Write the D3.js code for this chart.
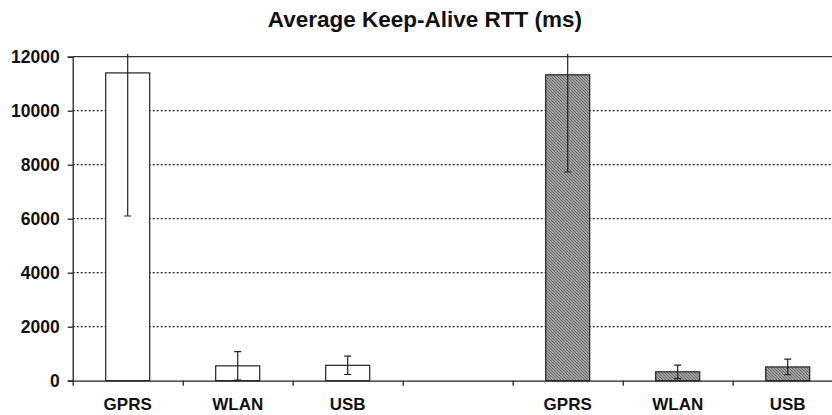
<!DOCTYPE html>
<html lang="en">
<head>
    <meta charset="UTF-8">
    <title>Average Keep-Alive RTT (ms)</title>
    <script src="https://d3js.org/d3.v7.min.js"></script>
    <style>
        body { margin: 0; background: #fff; }
        svg { display: block; overflow: hidden; }
        text { font-family: "Liberation Sans", Arial, sans-serif; font-weight: bold; fill: #111; }
    </style>
</head>
<body>
    <div id="chart"></div>
    <script>
        // chart data
        const techs = ["GPRS", "WLAN", "USB"];
        const plainMean = [11400, 550, 570];
        const plainErr = [5300, 530, 340];
        const hatchMean = [11330, 330, 510];
        const hatchErr = [3600, 250, 290];
        const yTicks = [0, 2000, 4000, 6000, 8000, 10000, 12000];

        // slots along the x axis: plain group, an empty slot, hatched group
        const slots = techs.map(t => "a-" + t).concat(["gap"], techs.map(t => "b-" + t));
        const bars = techs.map((t, i) => ({ slot: "a-" + t, label: t, mean: plainMean[i], err: plainErr[i], hatch: false }))
            .concat(techs.map((t, i) => ({ slot: "b-" + t, label: t, mean: hatchMean[i], err: hatchErr[i], hatch: true })));

        const W = 832, H = 415;
        const margin = { top: 56.7, left: 72.7 };
        const plotW = 770, plotH = 324;

        const svg = d3.select("#chart").append("svg")
            .attr("width", W).attr("height", H);

        const defs = svg.append("defs");
        const pat = defs.append("pattern")
            .attr("id", "hatch")
            .attr("patternUnits", "userSpaceOnUse")
            .attr("width", 3).attr("height", 3);
        pat.append("rect").attr("width", 3).attr("height", 3).attr("fill", "#fff");
        pat.append("path")
            .attr("d", "M-1,-1 L4,4 M-1,2 L1,4 M2,-1 L4,1")
            .attr("stroke", "#222").attr("stroke-width", 1.1);

        defs.append("clipPath").attr("id", "clip")
            .append("rect")
            .attr("x", -5).attr("y", -3)
            .attr("width", plotW + 10).attr("height", plotH + 3);

        svg.append("text")
            .attr("x", 425).attr("y", 27)
            .attr("text-anchor", "middle")
            .style("font-size", "22.5px")
            .text("Average Keep-Alive RTT (ms)");

        const g = svg.append("g").attr("transform", `translate(${margin.left},${margin.top})`);

        const y = d3.scaleLinear().domain([0, 12000]).range([plotH, 0]);
        const x = d3.scaleBand().domain(slots).range([0, plotW]).paddingInner(0.6).paddingOuter(0.3);
        const xPos = d3.scaleLinear().domain([0, slots.length]).range([0, plotW]);

        // dotted gridlines
        g.selectAll(".grid").data(yTicks.filter(v => v > 0 && v < 12000)).enter()
            .append("line")
            .attr("x1", 0).attr("x2", plotW)
            .attr("y1", d => y(d)).attr("y2", d => y(d))
            .attr("stroke", "#222").attr("stroke-width", 1.2)
            .attr("stroke-dasharray", "2,2");

        // top border
        g.append("line")
            .attr("x1", 0).attr("x2", plotW)
            .attr("y1", y(12000)).attr("y2", y(12000))
            .attr("stroke", "#333").attr("stroke-width", 1.2);

        // bars
        g.selectAll(".bar").data(bars).enter()
            .append("rect")
            .attr("x", d => x(d.slot))
            .attr("y", d => y(d.mean))
            .attr("width", x.bandwidth())
            .attr("height", d => y(0) - y(d.mean))
            .attr("fill", d => d.hatch ? "url(#hatch)" : "#fff")
            .attr("stroke", "#222").attr("stroke-width", 1.2);

        // error bars
        const eb = g.append("g").attr("clip-path", "url(#clip)");
        const cx = d => x(d.slot) + x.bandwidth() / 2;
        eb.selectAll(".err").data(bars).enter()
            .append("line")
            .attr("x1", cx).attr("x2", cx)
            .attr("y1", d => y(d.mean + d.err))
            .attr("y2", d => y(Math.max(0, d.mean - d.err)))
            .attr("stroke", "#222").attr("stroke-width", 1.2);
        ["hi", "lo"].forEach(side => {
            eb.selectAll(".cap-" + side).data(bars).enter()
                .append("line")
                .attr("x1", d => cx(d) - 3.5).attr("x2", d => cx(d) + 3.5)
                .attr("y1", d => y(side === "hi" ? d.mean + d.err : d.mean - d.err))
                .attr("y2", d => y(side === "hi" ? d.mean + d.err : d.mean - d.err))
                .attr("stroke", "#222").attr("stroke-width", 1.2);
        });

        // y axis
        const yAxis = g.append("g")
            .call(d3.axisLeft(y).tickValues(yTicks).tickSize(5).tickPadding(8).tickFormat(d3.format("d")));
        yAxis.selectAll("path, line").attr("stroke", "#222").attr("stroke-width", 1.3);
        yAxis.selectAll("text").style("font-size", "17.5px").attr("fill", "#111");

        // x axis: ticks between categories
        const xAxis = g.append("g").attr("transform", `translate(0,${plotH})`)
            .call(d3.axisBottom(xPos).tickValues(d3.range(slots.length + 1)).tickSize(5).tickSizeOuter(0).tickFormat(""));
        xAxis.selectAll("path, line").attr("stroke", "#222").attr("stroke-width", 1.3);

        g.selectAll(".xlabel").data(bars).enter()
            .append("text")
            .attr("x", cx)
            .attr("y", plotH + 29.5)
            .attr("text-anchor", "middle")
            .style("font-size", "17px")
            .text(d => d.label);
    </script>
</body>
</html>
